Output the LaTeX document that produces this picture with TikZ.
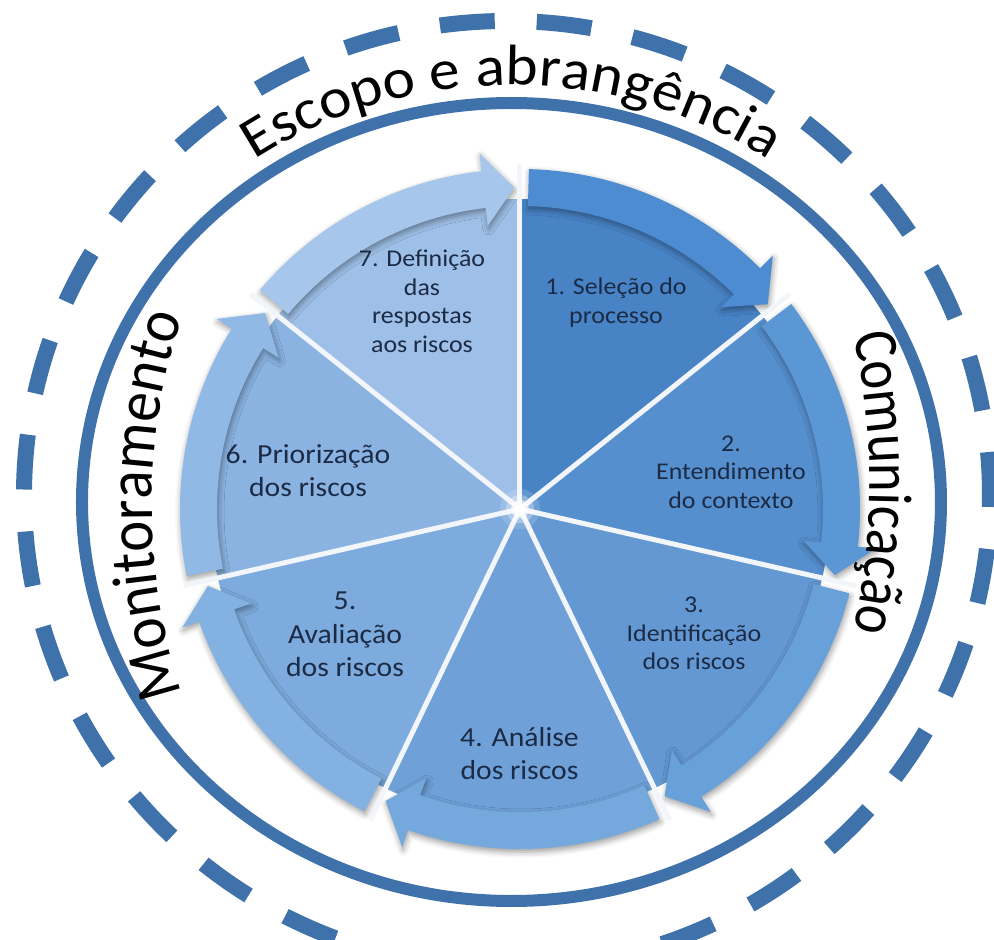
\documentclass[tikz,border=0pt]{standalone}
\usepackage{fontspec}
\setmainfont{Carlito}
\newfontfamily\segfont[FakeStretch=1.08]{Carlito}
\newfontfamily\arcfont[FakeStretch=1.08]{Carlito}
\newfontfamily\sidefontA[FakeStretch=0.92]{Carlito}
\newfontfamily\sidefontB[FakeStretch=0.88]{Carlito}
\usetikzlibrary{decorations.text,shadows.blur}
\definecolor{ringcol}{HTML}{3F72AA}
\definecolor{txtcol}{HTML}{1C2B45}
\definecolor{s1}{HTML}{4883C6}\definecolor{b1}{HTML}{4D8CD1}
\definecolor{s2}{HTML}{568FCE}\definecolor{b2}{HTML}{5B96D5}
\definecolor{s3}{HTML}{6398D3}\definecolor{b3}{HTML}{68A0D9}
\definecolor{s4}{HTML}{6FA1D8}\definecolor{b4}{HTML}{75A8DD}
\definecolor{s5}{HTML}{7DABDD}\definecolor{b5}{HTML}{83B1E1}
\definecolor{s6}{HTML}{8AB3E1}\definecolor{b6}{HTML}{90B9E5}
\definecolor{s7}{HTML}{9EC0E8}\definecolor{b7}{HTML}{A6C6EB}
\definecolor{divcol}{HTML}{F2F5FA}
\newcommand\topfmt{\arcfont\fontsize{57}{60}\selectfont}
\newcommand\leftfmt{\sidefontA\fontsize{64}{66}\selectfont}
\newcommand\rightfmt{\sidefontB\fontsize{62}{64}\selectfont}
\tikzset{
  segS/.style={font=\segfont\fontsize{24}{28.5}\selectfont, text=txtcol, align=center, inner sep=0pt},
  segL/.style={font=\segfont\fontsize{27.5}{33.5}\selectfont, text=txtcol, align=center, inner sep=0pt},
  bandshadow/.style={blur shadow={shadow xshift=1pt, shadow yshift=-3pt, shadow blur radius=6pt, shadow opacity=40}},
  ringline/.style={draw=ringcol, line width=12},
  dashring/.style={draw=ringcol, line width=16, dash pattern=on 55 off 42, dash phase=12},
  divider/.style={draw=divcol, line width=5}
}
\begin{document}
\begin{tikzpicture}[x=1pt,y=1pt]
\useasboundingbox (-520,-431) rectangle (474,509);
% outer rings
\path[dashring] (-13,14) ellipse [x radius=483, y radius=474];
\path[ringline] (-8.5,7) ellipse [x radius=429.5, y radius=399];
% sectors
\foreach \k/\sc in {1/s1,2/s2,3/s3,4/s4,5/s5,6/s6,7/s7}{
  \pgfmathsetmacro\as{90-(\k-1)*360/7}
  \pgfmathsetmacro\ae{\as-360/7}
  \fill[\sc] (0,0) -- (\as:310) arc[start angle=\as, end angle=\ae, radius=310] -- cycle;
}
% arrow bands
\foreach \k/\bc in {1/b1,2/b2,3/b3,4/b4,5/b5,6/b6,7/b7}{
  \pgfmathsetmacro\as{90-(\k-1)*360/7-1.5}
  \pgfmathsetmacro\ab{90-\k*360/7+6.5}
  \pgfmathsetmacro\at{90-\k*360/7+1}
  \fill[\bc, bandshadow] (\as:340) arc[start angle=\as, end angle=\ab, radius=340]
     -- (\ab:358) -- (\at:321.5) -- (\ab:285) -- (\ab:303)
     arc[start angle=\ab, end angle=\as, radius=303] -- cycle;
}
% dividers
\foreach \k in {0,...,6}{
  \path[divider] (0,0) -- ({90-\k*360/7}:345);
}
\fill[white, opacity=.15] (0,0) circle (20);
\fill[white, opacity=.3] (0,0) circle (14);
\fill[white, opacity=.6] (0,0) circle (9);
\fill[white] (0,0) circle (5);
% segment labels
\node[segS] (t1) at (96,206.5) {1. Seleção do\\processo};
\node[segS] (t2) at (211,37) {2.\\Entendimento\\do contexto};
\node[segS] (t3) at (174,-124.5) {3.\\Identificação\\dos riscos};
\node[segL] (t4) at (-0.5,-244.5) {4. Análise\\dos riscos};
\node[segL] (t5) at (-175,-125.5) {5.\\Avaliação\\dos riscos};
\node[segL] (t6) at (-212,38.5) {6. Priorização\\dos riscos};
\node[segS] (t7) at (-98,207.5) {7. Definição\\das\\respostas\\aos riscos};
% curved titles
\path[decorate, decoration={text along path, text align=center,
   text={|\color{black}\topfmt|Escopo e abrangência}}]
   (-8.5,7) ++(150:449 and 417) arc[start angle=150, end angle=30, x radius=449, y radius=417];
\path[decorate, decoration={text along path, text align=center,
   text={|\color{black}\leftfmt|Monitoramento}}]
   (232,4) ++(210:600) arc[start angle=210, end angle=150, radius=600];
\path[decorate, decoration={text along path, text align=center,
   text={|\color{black}\rightfmt|Comunicação}}]
   (-300,26) ++(30:650) arc[start angle=30, end angle=-30, radius=650];
\end{tikzpicture}
\end{document}
